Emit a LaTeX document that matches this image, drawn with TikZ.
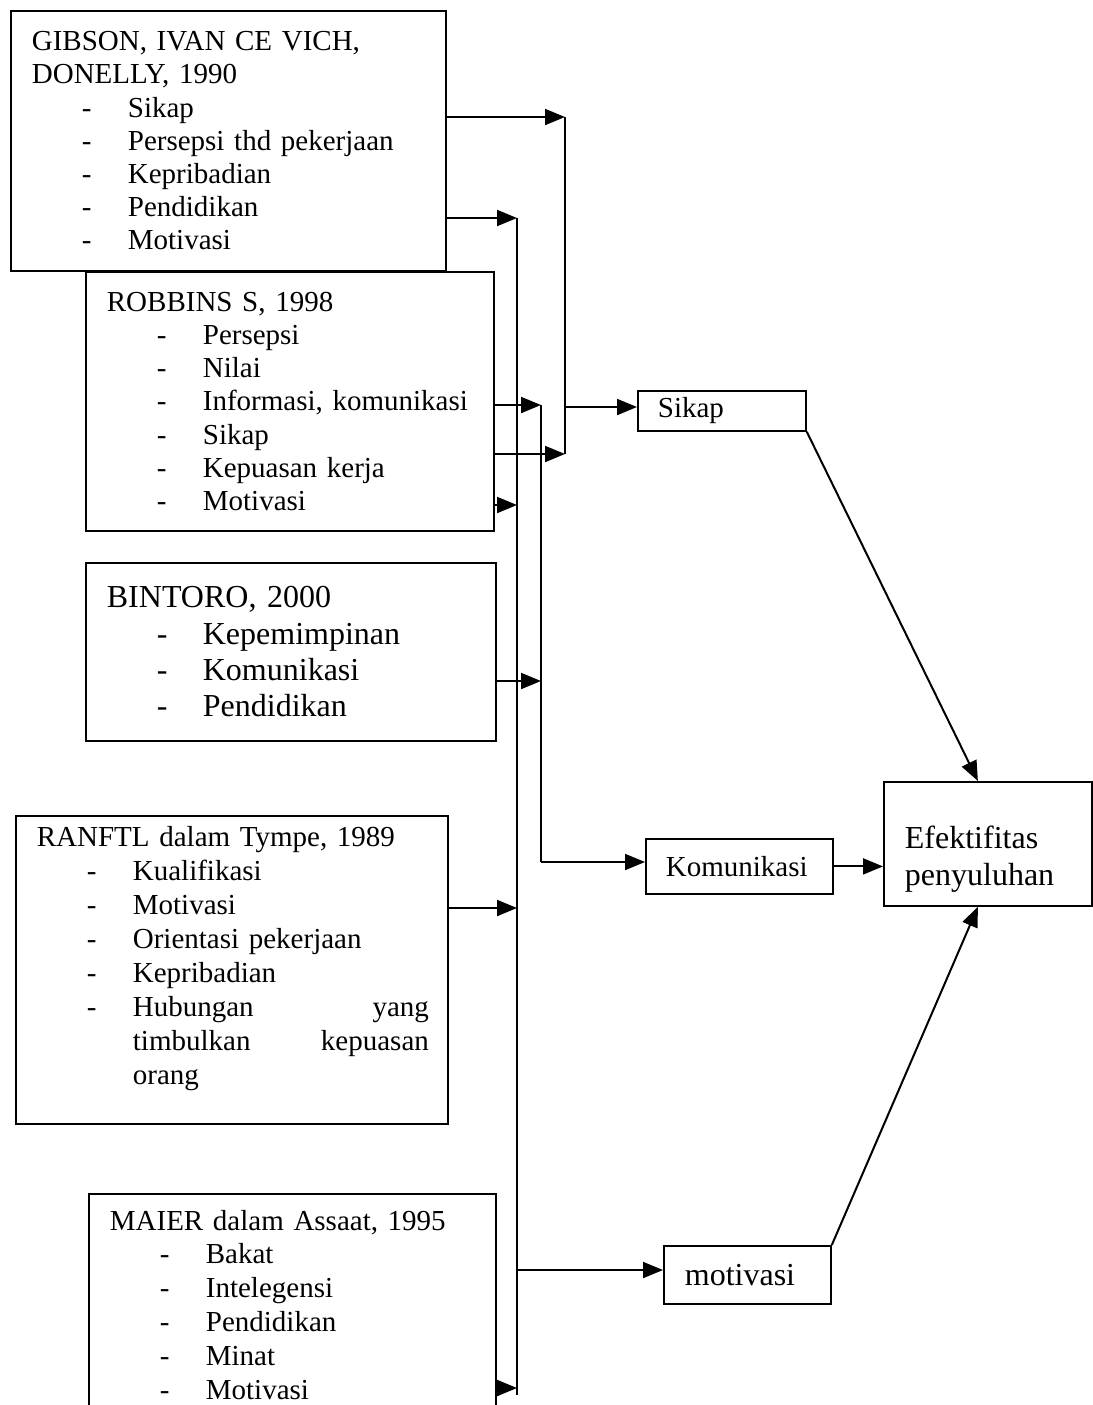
\documentclass[tikz,border=0pt]{standalone}
\usepackage{fontspec}
\setmainfont{Liberation Serif}
\usetikzlibrary{arrows.meta,calc}
\newcommand{\itm}[1]{\hspace*{25pt}\makebox[23pt][l]{-}#1}

\begin{document}
\begin{tikzpicture}[x=0.5pt,y=-0.5pt,>={Triangle[length=10pt,width=8pt]},
  src/.style={draw,line width=0.9pt,anchor=north west,align=left,inner xsep=10.5pt,inner ysep=4pt,font=\fontsize{14.5}{16.6}\selectfont},
  res/.style={draw,line width=0.9pt,anchor=north west,align=left,inner xsep=10pt,inner ysep=2pt,font=\fontsize{14.5}{16.6}\selectfont},
  con/.style={->,line width=1pt},
  bus/.style={line width=1pt}]
  \useasboundingbox (0,0) rectangle (1093,1405);
  % sumber teori
  \node[src,minimum width=217.5pt,minimum height=130pt,text width=196.5pt] (gib) at (10,10)
    {GIBSON, IVAN CE VICH,\\DONELLY, 1990\\\itm{Sikap}\\\itm{Persepsi thd pekerjaan}\\\itm{Kepribadian}\\\itm{Pendidikan}\\\itm{Motivasi}};
  \node[src,minimum width=204pt,minimum height=129.5pt,text width=183pt] (rob) at (85,271)
    {ROBBINS S, 1998\\\itm{Persepsi}\\\itm{Nilai}\\\itm{Informasi, komunikasi}\\\itm{Sikap}\\\itm{Kepuasan kerja}\\\itm{Motivasi}};
  \node[src,minimum width=205pt,minimum height=89pt,text width=184pt,font=\fontsize{16}{18.2}\selectfont] (bin) at (85,562)
    {BINTORO, 2000\\\itm{Kepemimpinan}\\\itm{Komunikasi}\\\itm{Pendidikan}};
  \node[src,minimum width=216pt,minimum height=154pt,text width=195pt,font=\fontsize{14.5}{17}\selectfont] (ran) at (15,815)
    {RANFTL dalam Tympe, 1989\\\itm{Kualifikasi}\\\itm{Motivasi}\\\itm{Orientasi pekerjaan}\\\itm{Kepribadian}\\
     \itm{\parbox[t]{148pt}{Hubungan\hfill yang\\timbulkan\hfill kepuasan\\orang\par\vspace*{11pt}}}};
  \node[src,minimum width=203.5pt,text width=182.5pt,inner ysep=8pt,font=\fontsize{14.5}{16.9}\selectfont] (mai) at (88,1193)
    {MAIER dalam Assaat, 1995\\\itm{Bakat}\\\itm{Intelegensi}\\\itm{Pendidikan}\\\itm{Minat}\\\itm{Motivasi}};
  % variabel
  \node[res,minimum width=84pt,minimum height=20pt,text width=64pt] (sik) at (637,390) {Sikap};
  \node[res,minimum width=93.5pt,minimum height=27.5pt,text width=73.5pt] (kom) at (645,838) {Komunikasi};
  \node[res,minimum width=83.5pt,minimum height=29pt,text width=62.5pt,inner xsep=10.5pt,font=\fontsize{16}{18.5}\selectfont] (mot) at (663,1245) {motivasi};
  \node[res,minimum width=104pt,minimum height=62pt,text width=83pt,inner xsep=10.5pt,font=\fontsize{16}{18.5}\selectfont] (efk) at (883,781) {\rule{0pt}{27pt}Efektifitas\\penyuluhan};
  % titik jalur
  \coordinate (sbT) at (565,117);
  \coordinate (sbO) at (565,407);
  \coordinate (sbB) at (565,454);
  \coordinate (kbT) at (541,405);
  \coordinate (kb2) at (541,681);
  \coordinate (kbB) at (541,862);
  \coordinate (mbT) at (517,218);
  \coordinate (mb2) at (517,505);
  \coordinate (mb3) at (517,908);
  \coordinate (mbO) at (517,1270);
  \coordinate (mb4) at (517,1388);
  \coordinate (mbB) at (517,1395);
  \draw[bus] (sbT) -- (sbB);
  \draw[bus] (kbT) -- (kbB);
  \draw[bus] (mbT) -- (mbB);
  % masuk
  \draw[con] (gib.east |- sbT) -- (sbT);
  \draw[con] (gib.east |- mbT) -- (mbT);
  \draw[con] (rob.east |- kbT) -- (kbT);
  \draw[con] (rob.east |- sbB) -- (sbB);
  \draw[con] (rob.east |- mb2) -- (mb2);
  \draw[con] (bin.east |- kb2) -- (kb2);
  \draw[con] (ran.east |- mb3) -- (mb3);
  \draw[con] (mai.east |- mb4) -- (mb4);
  % keluar
  \draw[con] (sbO) -- (sik.west |- sbO);
  \draw[con] (kbB) -- (kom.west |- kbB);
  \draw[con] (mbO) -- (mot.west |- mbO);
  \draw[con] (sik.south east) -- ([xshift=-5pt]efk.north);
  \draw[con] (kom.east) -- (kom.east -| efk.west);
  \draw[con] (mot.north east) -- ([xshift=-5pt]efk.south);
\end{tikzpicture}
\end{document}
